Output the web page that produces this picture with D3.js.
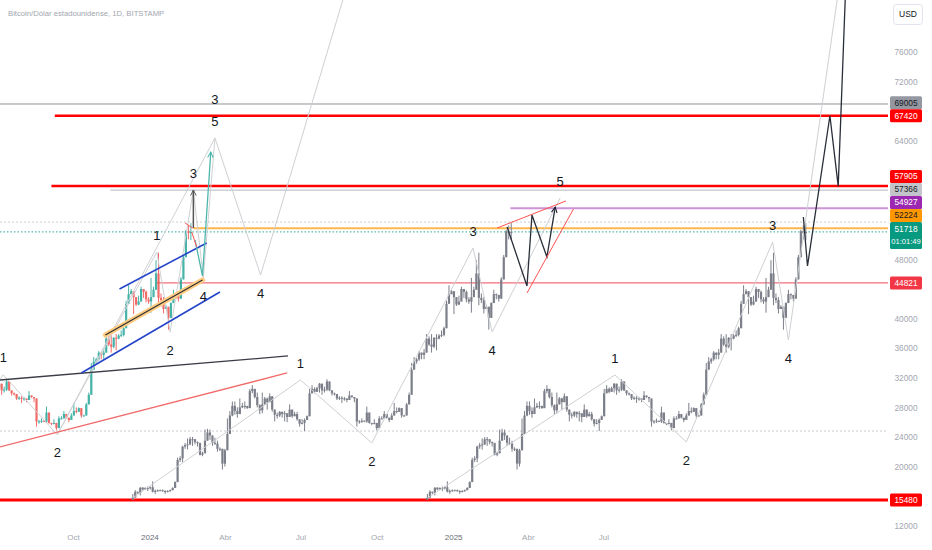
<!DOCTYPE html>
<html><head><meta charset="utf-8">
<script src="https://cdn.jsdelivr.net/npm/d3@7/dist/d3.min.js"></script>
<style>
body{margin:0;background:#fff;}
svg{display:block;font-family:"Liberation Sans",Arial,sans-serif;}
</style>
</head><body>
<svg id="chart" width="932" height="550"></svg>
<script>
// ---------------- DATA ----------------
const titleText = "Bitcoin/Dólar estadounidense, 1D, BITSTAMP";
const currencyText = "USD";
const countdownText = "01:01:49";

// BTC/USD history, one bar every 3 days from 2022-11-21 (values in thousands USD)
const seriesStart = "2022-11-21";
const stepDays = 3;
const btcClose = [15.8,16.6,16.45,17.15,16.9,17.1,17.1,17.2,16.6,16.7,
  16.8,16.8,16.7,16.6,16.7,16.8,17.1,17.9,20.9,21.1,
  22.7,22.9,23.0,23.7,23.7,23.3,23.2,21.6,21.8,23.5,
  24.6,24.2,23.2,23.1,22.4,22.4,20.4,22.2,24.4,26.9,
  28.2,27.5,27.1,28.0,28.2,28.2,27.9,30.2,30.5,29.4,
  28.3,27.6,28.4,29.2,28.7,29.5,27.7,27.0,26.9,27.4,
  27.1,27.2,26.7,27.7,26.8,27.1,26.4,25.8,25.9,26.3,
  26.8,29.9,30.5,30.1,30.6,31.2,30.3,30.4,31.5,30.3,
  29.9,29.8,29.2,29.3,29.2,29.2,29.0,29.6,29.4,29.2,
  26.1,26.1,26.2,26.1,27.3,25.9,25.8,25.9,25.2,26.5,
  26.5,27.1,26.6,26.3,26.9,27.5,27.4,27.9,26.9,26.9,
  28.4,29.7,33.1,34.2,34.5,35.4,35.1,35.4,37.3,36.5,
  36.2,37.4,37.3,37.7,37.8,38.7,42.0,43.3,43.7,42.9,
  41.9,42.3,44.0,43.6,42.6,42.3,42.9,43.9,46.1,42.8,
  42.5,41.3,41.6,40.1,42.1,43.3,43.2,42.7,45.3,48.3,
  51.8,51.6,51.7];
const btcHigh = [16.3,16.8,16.6,17.2,17.2,17.2,17.3,17.3,18.0,16.9,
  16.9,16.9,16.9,16.8,16.8,16.9,17.2,18.0,21.2,21.4,
  22.8,23.2,23.8,24.0,24.0,23.7,23.4,22.8,22.0,25.0,
  25.1,25.0,24.0,23.9,23.5,22.6,22.0,22.4,26.5,27.5,
  28.8,28.8,28.0,29.2,28.6,28.8,28.2,30.5,31.0,30.5,
  30.0,28.4,30.0,29.4,29.3,29.9,29.0,27.6,27.3,27.5,
  27.2,27.5,26.9,28.4,27.1,27.4,27.4,26.3,26.4,26.5,
  26.9,30.5,31.0,30.7,30.8,31.3,30.4,30.8,31.8,30.4,
  30.2,30.0,29.3,29.5,29.5,29.4,29.2,30.2,29.5,29.4,
  28.7,26.3,26.5,26.2,28.1,26.4,25.9,26.4,25.9,26.8,
  26.8,27.5,26.7,26.4,27.2,28.6,28.0,28.0,27.5,27.0,
  28.6,30.0,34.0,34.8,34.7,35.6,35.3,35.9,37.9,37.6,
  37.9,37.5,37.9,37.9,38.4,38.9,42.4,44.5,44.0,43.4,
  42.7,43.1,44.3,43.8,43.8,42.9,45.5,44.3,47.9,48.9,
  43.4,42.9,41.8,40.5,42.2,43.9,43.4,43.0,45.6,48.6,
  52.0,52.6,52.9];
const btcLow = [15.5,15.9,16.3,16.1,16.8,16.9,16.7,16.9,16.5,16.3,
  16.6,16.7,16.6,16.3,16.5,16.6,16.8,17.1,18.0,20.6,
  20.6,22.4,22.3,22.9,22.8,23.0,22.7,21.5,21.4,21.8,
  23.8,23.6,22.8,22.9,22.0,22.1,19.6,20.0,22.9,24.5,
  26.8,27.0,26.6,27.2,27.9,27.8,27.8,28.2,29.9,29.2,
  28.0,27.1,27.2,28.9,27.7,28.8,27.4,26.1,26.5,26.7,
  26.6,26.1,26.0,27.6,26.6,26.9,26.2,25.4,25.7,24.8,
  26.3,28.4,30.1,29.9,30.3,30.0,29.7,30.0,30.2,30.2,
  29.6,29.6,29.0,29.0,28.6,28.9,28.7,29.4,29.3,28.7,
  25.4,25.8,25.9,26.0,25.9,25.8,25.6,25.7,24.9,25.8,
  26.4,26.9,26.5,26.0,26.6,27.3,27.2,27.7,26.6,26.8,
  27.9,28.7,29.9,33.4,33.9,34.3,34.5,34.5,36.6,36.3,
  35.4,36.0,35.7,37.2,37.5,37.6,39.9,43.1,43.5,40.6,
  41.7,41.8,43.4,42.8,42.2,42.0,40.8,43.4,45.0,41.8,
  42.1,40.7,41.4,38.5,41.7,42.7,42.6,42.3,44.3,47.8,
  49.0,50.7,50.6];

// Projected copies of the same bar pattern (start dates of each copy)
const ghostStarts = ["2023-12-12", "2024-12-01"];

// Horizontal price levels and the date each line starts at
const priceLevels = [69005, 67420, 57905, 57366, 54927, 52224, 51718, 44821, 15480];
const levelStarts = ["2023-07-05","2023-09-09","2023-09-05","2023-11-15","2025-03-11","2024-02-23","2023-07-05","2024-01-10","2023-07-05"];
const lastPrice = 51718;
const dottedLevels = [53050, 24800];

// Axis ticks
const priceTicks = [12000,16000,20000,24000,28000,32000,36000,40000,44000,48000,52000,56000,60000,64000,68000,72000,76000];
const timeTicks = ["2023-10-01","2024-01-01","2024-04-01","2024-07-01","2024-10-01","2025-01-01","2025-04-01","2025-07-01"];
const timeTickLabels = ["Oct","2024","Abr","Jul","Oct","2025","Abr","Jul"];

// Elliott wave counts: [date, price, label]
const waveSmall = [["2023-09-12",24300,""],["2024-01-10",49000,"1"],["2024-01-26",38190,"2"],["2024-02-23",57380,"3"],["2024-03-06",45490,"4"],["2024-03-20",64410,"5"]];
const waveBig = [["2023-06-18",29300,""],["2023-07-09",32400,"1"],["2023-09-12",24300,"2"],["2024-03-20",64410,"3"],["2024-05-14",45890,"4"],["2024-08-22",83400,""]];
const waveGhost1 = [["2023-12-12",15750,""],["2024-07-01",31700,"1"],["2024-09-25",23190,"2"],["2025-01-25",49540,"3"],["2025-02-17",38190,"4"],["2025-05-10",56300,"5"]];
const waveGhost2 = [["2024-12-01",15750,""],["2025-07-15",32380,"1"],["2025-10-09",23320,"2"],["2026-01-21",50350,"3"],["2026-02-09",37110,"4"],["2026-04-09",83300,""]];

// Projection paths and trend lines: [date, price]
const proj1 = [["2025-03-07",52380],["2025-03-31",44410],["2025-04-06",54000],["2025-04-24",48330],["2025-05-04",55080]];
const proj2 = [["2026-02-27",53730],["2026-03-04",47110],["2026-03-31",67420],["2026-04-10",57905],["2026-04-19",84800]];
const wedgeUpper = [["2025-02-23",52245],["2025-05-17",55900]];
const wedgeLower = [["2025-03-31",43460],["2025-05-26",54810]];
const tealArrow = [["2024-02-25",50600],["2024-03-05",45760],["2024-03-15",62520]];
const blackArrow = [["2024-02-23",52240],["2024-02-23",57380]];
const redTick1 = [["2024-02-13",52920],["2024-02-22",52240]];
const redTick2 = [["2024-02-21",51700],["2024-02-27",49680]];
const blackTrend = [["2023-07-05",31700],["2024-06-16",34950]];
const redTrend = [["2023-07-05",22650],["2024-06-15",32650]];
const blueUpper = [["2023-11-26",44000],["2024-03-10",50220]];
const blueLower = [["2023-10-11",32650],["2024-03-26",43600]];
const orangeBand = [["2023-11-09",37780],["2024-03-05",45220]];

// ---------------- CHART ----------------
const W = 932, H = 550, plotW = 888, plotH = 528;
const svg = d3.select("#chart");
const D = s => new Date(s + "T00:00:00Z");
const addDays = (s, n) => new Date(D(s).getTime() + n * 864e5);

const x = d3.scaleUtc().domain([D("2023-07-05"), D("2026-06-09")]).range([0, plotW]);
const y = d3.scaleLinear().domain([8722, 83062]).range([H, 0]);

const defs = svg.append("defs");
defs.append("clipPath").attr("id","plotClip").append("rect").attr("x",0).attr("y",0).attr("width",plotW).attr("height",plotH);
function marker(id, color) {
  defs.append("marker").attr("id", id).attr("viewBox","0 0 10 10").attr("refX",9).attr("refY",5)
    .attr("markerWidth",7).attr("markerHeight",7).attr("orient","auto-start-reverse").attr("markerUnits","userSpaceOnUse")
    .append("path").attr("d","M1,1 L9,5 L1,9").attr("fill","none").attr("stroke",color).attr("stroke-width",1.4);
}
marker("arrBlack","#131722");
marker("arrTeal","#4db6ac");
marker("arrGrey","#555");

svg.append("rect").attr("width",W).attr("height",H).attr("fill","#fff");
const plot = svg.append("g").attr("clip-path","url(#plotClip)");

const line = d3.line().x(d => x(D(d[0]))).y(d => y(d[1]));

// dotted reference lines
plot.selectAll("line.dotted").data(dottedLevels).join("line").attr("class","dotted")
  .attr("x1",0).attr("x2",plotW).attr("y1",d=>y(d)).attr("y2",d=>y(d))
  .attr("stroke","#c9cbd1").attr("stroke-width",1).attr("stroke-dasharray","2,2");

// horizontal levels
const levelStyle = {
  69005:{stroke:"#8f9299",w:1,dash:null,box:"#9598a1",txt:"#131722"},
  67420:{stroke:"#ff0000",w:2.5,dash:null,box:"#ff0000",txt:"#ffffff"},
  57905:{stroke:"#ff0000",w:2.5,dash:null,box:"#ff0000",txt:"#ffffff"},
  57366:{stroke:"#c3c5cb",w:1.2,dash:null,box:"#c3c5cb",txt:"#131722"},
  54927:{stroke:"#ce93d8",w:2,dash:null,box:"#9c27b0",txt:"#ffffff"},
  52224:{stroke:"#ffb74d",w:2,dash:null,box:"#ff9800",txt:"#131722"},
  51718:{stroke:"#26a69a",w:1,dash:"1.5,2",box:"#089981",txt:"#ffffff"},
  44821:{stroke:"#f26d78",w:1.2,dash:null,box:"#f23645",txt:"#ffffff"},
  15480:{stroke:"#ff0000",w:3,dash:null,box:"#ff0000",txt:"#ffffff"}
};
plot.selectAll("line.level").data(priceLevels).join("line").attr("class","level")
  .attr("x1",(d,i)=>x(D(levelStarts[i]))).attr("x2",plotW)
  .attr("y1",d=>y(d)).attr("y2",d=>y(d))
  .attr("stroke",d=>levelStyle[d].stroke).attr("stroke-width",d=>levelStyle[d].w)
  .attr("stroke-dasharray",d=>levelStyle[d].dash);

// bars
function barData(start) {
  return btcClose.map((c, i) => {
    const o = i ? btcClose[i-1] : btcLow[0];
    return { t: addDays(start, i*stepDays), o: o*1000, c: c*1000,
      h: Math.max(btcHigh[i], o, c)*1000, l: Math.min(btcLow[i], o, c)*1000 };
  });
}
function drawBars(g, data, colorOf, op) {
  const sel = g.append("g").attr("opacity", op).selectAll("g").data(data).join("g");
  sel.append("line").attr("x1",d=>x(d.t)).attr("x2",d=>x(d.t)).attr("y1",d=>y(d.h)).attr("y2",d=>y(d.l))
    .attr("stroke",colorOf).attr("stroke-width",1);
  sel.append("rect").attr("x",d=>x(d.t)-1.1).attr("width",2.2)
    .attr("y",d=>y(Math.max(d.o,d.c))).attr("height",d=>Math.max(1,Math.abs(y(d.o)-y(d.c))))
    .attr("fill",colorOf);
}
ghostStarts.forEach(s => drawBars(plot, barData(s), () => "#7c7f89", 1));
drawBars(plot, barData(seriesStart), d => d.c >= d.o ? "#26a69a" : "#ef5350", 0.85);

// waves (grey zigzags)
const waves = [waveSmall, waveBig, waveGhost1, waveGhost2];
waves.forEach(w => plot.append("path").attr("d", line(w)).attr("fill","none").attr("stroke","#cfd0d4").attr("stroke-width",1));

// trend lines
plot.append("path").attr("d",line(blackTrend)).attr("stroke","#3a3d45").attr("stroke-width",1.3).attr("fill","none");
plot.append("path").attr("d",line(redTrend)).attr("stroke","#f26b6b").attr("stroke-width",1.3).attr("fill","none");
plot.append("path").attr("d",line(blueUpper)).attr("stroke","#2445c9").attr("stroke-width",1.6).attr("fill","none");
plot.append("path").attr("d",line(blueLower)).attr("stroke","#2445c9").attr("stroke-width",1.6).attr("fill","none");
plot.append("path").attr("d",line(orangeBand)).attr("stroke","#ffcc80").attr("stroke-width",5).attr("fill","none").attr("stroke-linecap","round");
plot.append("path").attr("d",line(orangeBand)).attr("stroke","#2a2e39").attr("stroke-width",1.1).attr("fill","none");

// projection paths
plot.append("path").attr("d",line(proj1)).attr("stroke","#2a2e39").attr("stroke-width",1.3).attr("fill","none").attr("marker-end","url(#arrBlack)");
plot.append("path").attr("d",line(proj2)).attr("stroke","#2a2e39").attr("stroke-width",1.3).attr("fill","none");
plot.append("path").attr("d",line(wedgeUpper)).attr("stroke","#ff5252").attr("stroke-width",1).attr("fill","none");
plot.append("path").attr("d",line(wedgeLower)).attr("stroke","#ff5252").attr("stroke-width",1).attr("fill","none");
plot.append("path").attr("d",line(tealArrow)).attr("stroke","#4db6ac").attr("stroke-width",1.3).attr("fill","none").attr("marker-end","url(#arrTeal)");
plot.append("path").attr("d",line(blackArrow)).attr("stroke","#555").attr("stroke-width",1.5).attr("fill","none").attr("marker-end","url(#arrGrey)");
plot.append("path").attr("d",line(redTick1)).attr("stroke","#ff5252").attr("stroke-width",1).attr("fill","none");
plot.append("path").attr("d",line(redTick2)).attr("stroke","#ff5252").attr("stroke-width",1).attr("fill","none");

// wave labels
const placed = [];
waves.forEach(w => {
  w.forEach((p, i) => {
    if (!p[2]) return;
    const prev = w[i-1], next = w[i+1];
    const isPeak = (!prev || p[1] > prev[1]) && (!next || p[1] > next[1]);
    const px = x(D(p[0]));
    let py = y(p[1]) + (isPeak ? -17 : 18);
    while (placed.some(q => Math.abs(q[0]-px) < 9 && Math.abs(q[1]-py) < 14)) py += isPeak ? -22 : 22;
    placed.push([px, py]);
    plot.append("text").attr("x",px).attr("y",py).attr("dy","0.35em").attr("text-anchor","middle")
      .attr("font-size",13).attr("fill","#131722").text(p[2]);
  });
});

// title
svg.append("text").attr("x",8).attr("y",16).attr("font-size",7.7).attr("fill","#a3a6af").text(titleText);

// price label boxes (last price fixed, others stacked away from it)
const boxH = 13;
const lastTop = y(lastPrice) - 10, lastH = 27;
const items = priceLevels.filter(v => v !== lastPrice).map(v => ({v, c: y(v)}));
const above = items.filter(d => d.c < y(lastPrice)).sort((a,b)=>b.c-a.c);
const below = items.filter(d => d.c >= y(lastPrice)).sort((a,b)=>a.c-b.c);
let edge = lastTop;
above.forEach(d => { d.c = Math.min(d.c, edge - boxH/2); edge = d.c - boxH/2; });
edge = lastTop + lastH;
below.forEach(d => { d.c = Math.max(d.c, edge + boxH/2); edge = d.c + boxH/2; });
const occupied = items.map(d => [d.c - boxH/2, d.c + boxH/2]).concat([[lastTop, lastTop + lastH]]);

// price axis (tick labels hidden where a price label covers them)
const visibleTicks = priceTicks.filter(v => !occupied.some(r => y(v) + 5 > r[0] && y(v) - 5 < r[1]));
const yAxis = d3.axisRight(y).tickValues(visibleTicks).tickSize(0).tickPadding(0).tickFormat(d3.format("d"));
const ya = svg.append("g").attr("transform",`translate(${plotW+18},0)`).call(yAxis);
ya.select(".domain").remove();
ya.selectAll("text").attr("fill","#a3a6af").attr("font-size",8.3).attr("text-anchor","middle").attr("x",0);

// time axis
const xAxis = d3.axisBottom(x).tickValues(timeTicks.map(D)).tickSize(0).tickPadding(0)
  .tickFormat((d,i) => timeTickLabels[i]);
const xa = svg.append("g").attr("transform",`translate(0,${plotH+6})`).call(xAxis);
xa.select(".domain").remove();
xa.selectAll("text").attr("font-size",8).attr("fill",(d,i)=>/^\d+$/.test(timeTickLabels[i]) ? "#6a6d78" : "#a3a6af");

const boxes = svg.append("g");
items.forEach(d => {
  const st = levelStyle[d.v];
  boxes.append("rect").attr("x",890).attr("y",d.c-boxH/2).attr("width",32).attr("height",boxH).attr("rx",1.5).attr("fill",st.box);
  boxes.append("text").attr("x",906).attr("y",d.c).attr("dy","0.35em").attr("text-anchor","middle")
    .attr("font-size",8.3).attr("fill",st.txt).text(d3.format("d")(d.v));
});
boxes.append("rect").attr("x",890).attr("y",lastTop).attr("width",32).attr("height",lastH).attr("rx",1.5).attr("fill",levelStyle[lastPrice].box);
boxes.append("text").attr("x",906).attr("y",lastTop+7).attr("dy","0.35em").attr("text-anchor","middle").attr("font-size",8.3).attr("fill","#fff").text(d3.format("d")(lastPrice));
boxes.append("text").attr("x",906).attr("y",lastTop+19.5).attr("dy","0.35em").attr("text-anchor","middle").attr("font-size",7.6).attr("fill","#fff").text(countdownText);

// currency button
svg.append("rect").attr("x",893.5).attr("y",4.5).attr("width",29).attr("height",20).attr("rx",3).attr("fill","#fff").attr("stroke","#e0e3eb");
svg.append("text").attr("x",908).attr("y",14.5).attr("dy","0.35em").attr("text-anchor","middle").attr("font-size",8.5).attr("fill","#131722").text(currencyText);
</script>
</body></html>
